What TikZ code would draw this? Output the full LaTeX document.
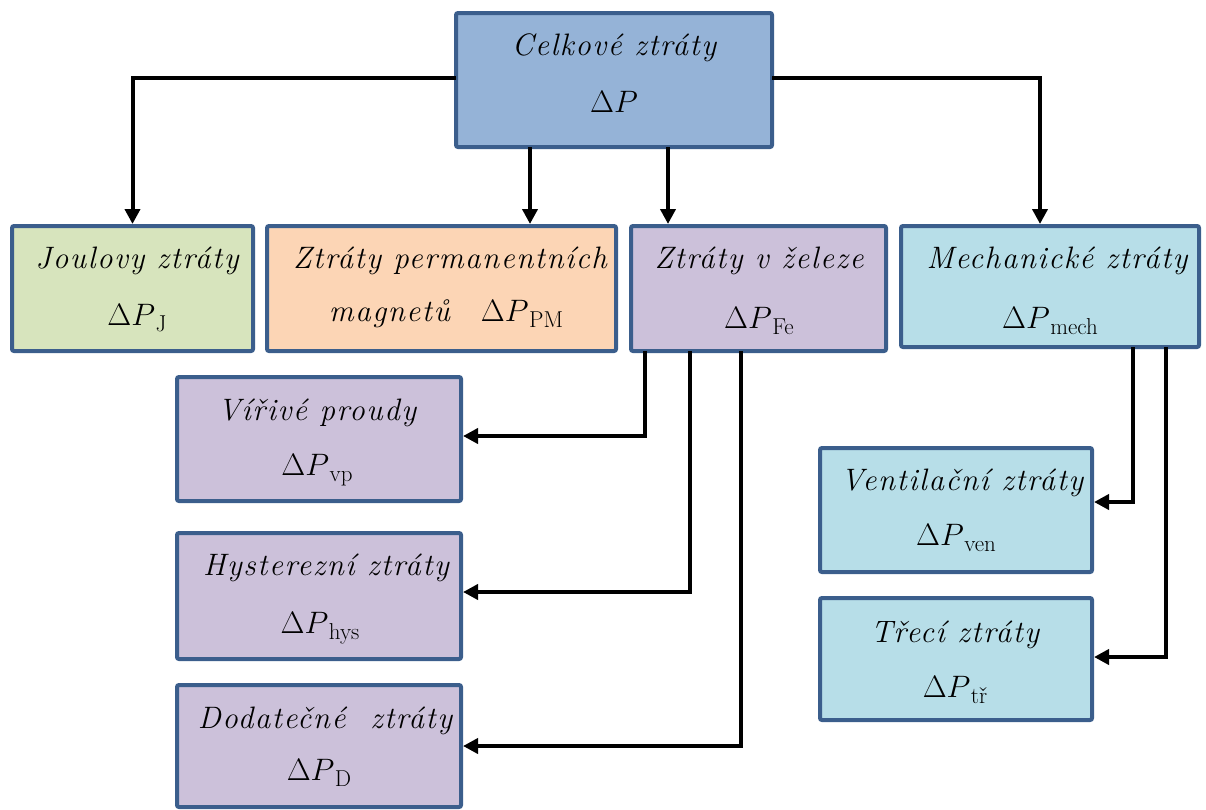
\RequirePackage{fix-cm}
\documentclass[tikz,border=0pt]{standalone}
\usepackage{fontspec}
\setmainfont{Latin Modern Roman}
\newfontfamily\bxfont[LetterSpace=5]{Latin Modern Roman}
\usetikzlibrary{arrows.meta}
\definecolor{bordc}{HTML}{3B5E8C}
\definecolor{ctop}{HTML}{95B3D7}
\definecolor{cj}{HTML}{D7E4BD}
\definecolor{cpm}{HTML}{FCD5B5}
\definecolor{cfe}{HTML}{CCC1DA}
\definecolor{cme}{HTML}{B7DEE8}
\tikzset{
  box/.style={draw=bordc, line width=4pt, rounded corners=2pt, inner sep=0pt},
  txt/.style={anchor=base, inner sep=0pt, font=\bxfont\fontsize{31}{37}\selectfont\itshape},
  arr/.style={line width=4pt, -{Triangle[length=15pt,width=15pt]}, line cap=rect},
}
\newcommand{\dP}[1]{$\Delta P$\kern0.5pt\raisebox{-6pt}{\normalfont\fontsize{23}{24}\selectfont #1}}
\begin{document}
\begin{tikzpicture}[x=1pt,y=-1pt]
\useasboundingbox (0,0) rectangle (1206,809);
% boxes
\node[box, fill=ctop, minimum width=316pt, minimum height=134pt] (tot) at (614,80) {};
\node[box, fill=cj, minimum width=241pt, minimum height=125pt] (joule) at (132.5,288.5) {};
\node[box, fill=cpm, minimum width=349pt, minimum height=125pt] (perm) at (441.5,288.5) {};
\node[box, fill=cfe, minimum width=255pt, minimum height=125pt] (fe) at (758.5,288.5) {};
\node[box, fill=cme, minimum width=298pt, minimum height=121pt] (mech) at (1050,286.5) {};
\node[box, fill=cfe, minimum width=284pt, minimum height=124pt] (vir) at (319,439) {};
\node[box, fill=cfe, minimum width=284pt, minimum height=126pt] (hys) at (319,596) {};
\node[box, fill=cfe, minimum width=284pt, minimum height=122pt] (dod) at (319,746) {};
\node[box, fill=cme, minimum width=272pt, minimum height=124pt] (ven) at (956,510) {};
\node[box, fill=cme, minimum width=272pt, minimum height=122pt] (tre) at (956,659) {};
% texts
\node[txt] (tot1) at (614,55) {Celkové ztráty};
\node[txt] (tot2) at (614,112) {$\Delta P$};
\node[txt] (joule1) at (137,268) {Joulovy ztráty};
\node[txt] (joule2) at (137,325) {\dP{J}};
\node[txt] (perm1) at (450,268) {Ztráty permanentních};
\node[txt] (perm2) at (446,321) {magnetů\quad\dP{PM}};
\node[txt] (fe1) at (759,268) {Ztráty v železe};
\node[txt] (fe2) at (759,328) {\dP{Fe}};
\node[txt] (mech1) at (1057,268) {Mechanické ztráty};
\node[txt] (mech2) at (1050,328) {\dP{mech}};
\node[txt] (vir1) at (317,420) {Vířivé proudy};
\node[txt] (vir2) at (317,475) {\dP{vp}};
\node[txt] (hys1) at (326,575) {Hysterezní ztráty};
\node[txt] (hys2) at (320,633) {\dP{hys}};
\node[txt] (dod1) at (325,728) {Dodatečné\ \ ztráty};
\node[txt] (dod2) at (319,780) {\dP{D}};
\node[txt] (ven1) at (962,490) {Ventilační ztráty};
\node[txt] (ven2) at (956,545) {\dP{ven}};
\node[txt] (tre1) at (955,642) {Třecí ztráty};
\node[txt] (tre2) at (955,697) {\dP{tř}};
% connectors
\draw[arr] ([yshift=2pt]tot.west) -| (joule.north);
\draw[arr] ([yshift=2pt]tot.east) -| ([xshift=-10pt]mech.north);
\draw[arr] (tot.south -| 530,0) -- (perm.north -| 530,0);
\draw[arr] (tot.south -| 668,0) -- (fe.north -| 668,0);
\draw[arr] (fe.south -| 645,0) |- ([yshift=3pt]vir.east);
\draw[arr] (fe.south -| 690,0) |- ([yshift=4pt]hys.east);
\draw[arr] (fe.south -| 741,0) |- (dod.east);
\draw[arr] (mech.south -| 1133,0) |- ([yshift=8pt]ven.east);
\draw[arr] (mech.south -| 1166,0) |- ([yshift=2pt]tre.east);
\end{tikzpicture}
\end{document}
